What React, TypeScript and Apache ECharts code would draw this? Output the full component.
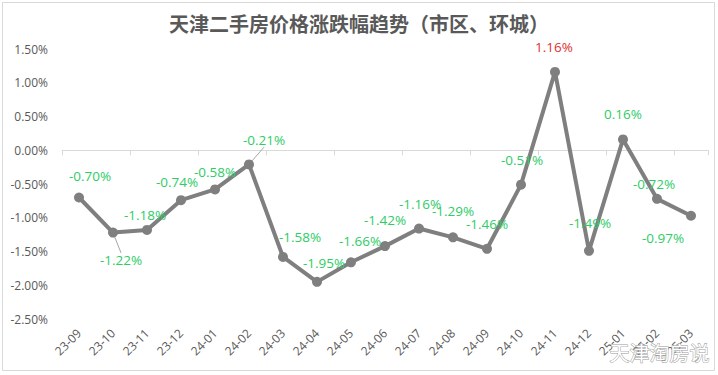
import React, { useEffect, useRef } from "react";
import * as echarts from "echarts";

const months = [
  "23-09", "23-10", "23-11", "23-12", "24-01", "24-02", "24-03", "24-04", "24-05", "24-06",
  "24-07", "24-08", "24-09", "24-10", "24-11", "24-12", "25-01", "25-02", "25-03",
];
const changes = [
  -0.7, -1.22, -1.18, -0.74, -0.58, -0.21, -1.58, -1.95, -1.66, -1.42,
  -1.16, -1.29, -1.46, -0.51, 1.16, -1.49, 0.16, -0.72, -0.97,
];
// label offsets relative to each point (layout only)
const labelOffsets: [number, number][] = [
  [11, -22], [8, 27], [-2, -15], [-4, -18], [0, -17], [15, -24], [17, -20], [7, -19],
  [9, -21], [0, -26], [1, -25], [0, -26], [0, -25], [1, -25], [-1, -25], [1, -28],
  [0, -25], [-3, -15], [-28, 22],
];
const leaderIdx = [1, 5];

const FONT = '"Segoe UI", "Open Sans", "Noto Sans", "Noto Sans CJK SC", sans-serif';

export default function App() {
  const ref = useRef<HTMLDivElement>(null);
  useEffect(() => {
    if (!ref.current) return;
    const chart = echarts.init(ref.current, undefined, { renderer: "svg" });
    chart.setOption({
      animation: false,
      backgroundColor: "#ffffff",
      textStyle: { fontFamily: FONT },
      title: {
        text: "天津二手房价格涨跌幅趋势（市区、环城）",
        left: "center",
        top: 8,
        textStyle: {
          fontFamily: '"Noto Sans CJK SC", sans-serif',
          fontSize: 20,
          fontWeight: "bold",
          color: "#595959",
        },
      },
      grid: { left: 62, right: 10, top: 49, bottom: 56, containLabel: false },
      xAxis: [
        {
          type: "category",
          data: months,
          position: "bottom",
          axisLine: { show: false, onZero: false },
          axisTick: { show: false },
          axisLabel: { rotate: 45, interval: 0, color: "#595959", fontSize: 12, margin: 12, fontFamily: FONT },
        },
        {
          type: "category",
          data: months,
          position: "top",
          axisLine: { show: true, onZero: true, lineStyle: { color: "#d9d9d9", width: 1 } },
          axisTick: { show: true, inside: true, length: 5, lineStyle: { color: "#d9d9d9" } },
          axisLabel: { show: false },
        },
      ],
      yAxis: {
        type: "value",
        min: -2.5,
        max: 1.5,
        interval: 0.5,
        axisLine: { show: false },
        axisTick: { show: false },
        splitLine: { show: false },
        axisLabel: {
          color: "#595959",
          fontSize: 12,
          margin: 14,
          fontFamily: FONT,
          formatter: (v: number) => v.toFixed(2) + "%",
        },
      },
      series: [
        {
          type: "line",
          xAxisIndex: 0,
          data: changes.map((v, i) => ({
            value: v,
            label: {
              color: v > 0.5 ? "#e03131" : "#2ecc66",
            },
            labelLine: { show: leaderIdx.includes(i), lineStyle: { color: "#a6a6a6", width: 1 } },
          })),
          symbol: "circle",
          symbolSize: 10,
          lineStyle: { color: "#7f7f7f", width: 4 },
          itemStyle: { color: "#7f7f7f" },
          label: {
            show: true,
            position: "inside",
            fontSize: 13.5,
            fontFamily: FONT,
            formatter: (p: any) => Number(p.value).toFixed(2) + "%",
          },
          labelLayout: (p: any) => ({
            dx: labelOffsets[p.dataIndex][0],
            dy: labelOffsets[p.dataIndex][1],
          }),
          z: 3,
        },
      ],
      graphic: [
        {
          type: "rect",
          shape: { x: 2.5, y: 2.5, width: 712, height: 368 },
          style: { fill: "none", stroke: "#d9d9d9", lineWidth: 1 },
          silent: true,
          z: -1,
        },
        {
          type: "text",
          right: 8,
          bottom: 12,
          style: {
            text: "天津淘房说",
            fontSize: 20,
            fontFamily: '"Noto Sans CJK SC", sans-serif',
            fill: "#ffffff",
            stroke: "#9a9a9a",
            lineWidth: 1,
          },
          z: 100,
        },
      ],
    });
    return () => chart.dispose();
  }, []);
  return (
    <div
      ref={ref}
      style={{ position: "fixed", left: 0, top: 0, width: 718, height: 375 }}
    />
  );
}
